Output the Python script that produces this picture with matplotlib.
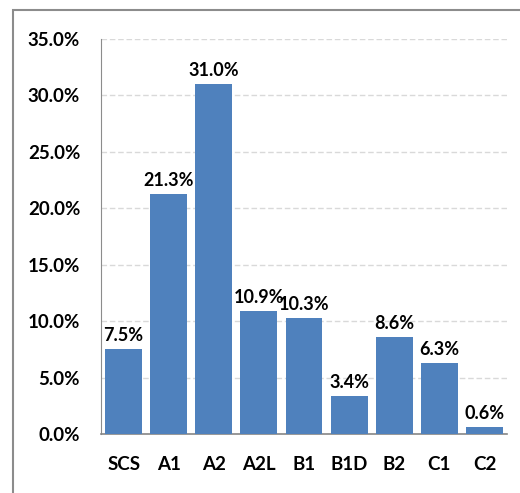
import matplotlib
matplotlib.use('Agg')
import matplotlib.pyplot as plt
from matplotlib.patches import Rectangle
from matplotlib.ticker import FuncFormatter
import numpy as np

categories = ['SCS', 'A1', 'A2', 'A2L', 'B1', 'B1D', 'B2', 'C1', 'C2']
shares = [7.5, 21.3, 31.0, 10.9, 10.3, 3.4, 8.6, 6.3, 0.6]
yticks = [0, 5, 10, 15, 20, 25, 30, 35]

plt.rcParams['font.family'] = ['Lato', 'DejaVu Sans']
wt = 'bold'
fs = 13.5

fig = plt.figure(figsize=(5.2, 4.93), dpi=100)
ax = fig.add_axes([101/520, 1 - 434/493, 406/520, 395/493])

# outer chart frame (only left/top visible in the crop)
fig.patches.append(Rectangle((13/520, -0.1), 1.2, 1 - 10/493 + 0.1,
                             transform=fig.transFigure, fill=False,
                             edgecolor='#8c8c8c', linewidth=1.5))

x = np.arange(len(categories))
ax.bar(x, shares, width=0.82, color='#4f81bd', zorder=3)

for xi, v in zip(x, shares):
    ax.text(xi, v + 0.45, f'{v:.1f}%', ha='center', va='bottom',
            fontsize=13, fontweight=wt)

ax.set_xlim(-0.5, len(categories) - 0.5)
ax.set_ylim(0, 35)
ax.set_yticks(yticks)
ax.yaxis.set_major_formatter(FuncFormatter(lambda v, p: f'{v:.1f}%'))
ax.set_xticks(x)
ax.set_xticklabels(categories)
ax.tick_params(axis='both', length=0, labelsize=fs)
ax.tick_params(axis='y', pad=15)
ax.tick_params(axis='x', pad=16)
for lbl in ax.get_xticklabels() + ax.get_yticklabels():
    lbl.set_fontweight(wt)

ax.grid(axis='y', linestyle=(0, (4, 2)), color='#d9d9d9', linewidth=1, zorder=0)
for s in ['top', 'right']:
    ax.spines[s].set_visible(False)
ax.spines['left'].set_color('#8c8c8c')
ax.spines['bottom'].set_color('#868686')
ax.spines['bottom'].set_linewidth(1.2)

fig.savefig('out.png', dpi=100)
